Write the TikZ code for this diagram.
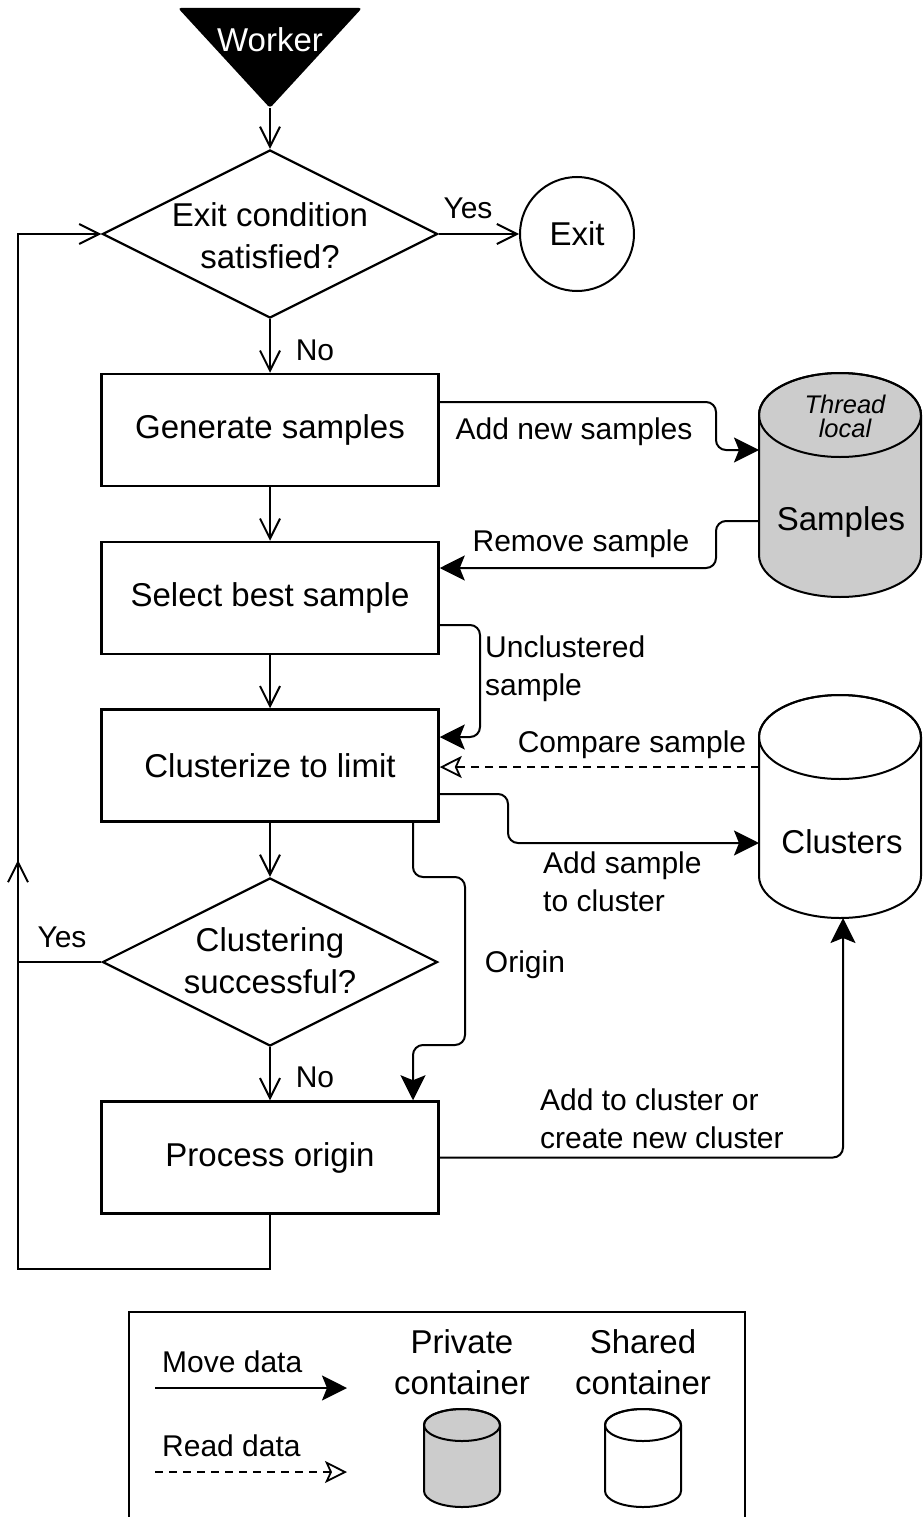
\documentclass[tikz,border=0pt]{standalone}
\usepackage{fontspec}
\setmainfont{Liberation Sans}
\usetikzlibrary{arrows.meta,shapes.geometric,calc}
\definecolor{cylgray}{HTML}{CCCCCC}
\newcommand\cylshape[6]{%
  \draw[line width=2pt,fill=#1] ({#2-#5},{#3+#6}) -- ({#2-#5},{#4-#6})
    arc[start angle=180,end angle=0,x radius=#5,y radius=#6]
    -- ({#2+#5},{#3+#6})
    arc[start angle=0,end angle=-180,x radius=#5,y radius=#6] -- cycle;
  \draw[line width=2pt] (#2,{#3+#6}) ellipse[x radius=#5,y radius=#6];
}
\begin{document}
\begin{tikzpicture}[x=1pt,y=-1pt,
  nodefont/.style={font=\fontsize{33}{42}\selectfont},
  lblfont/.style={font=\fontsize{30}{38}\selectfont},
  box/.style={draw,line width=2.5pt,minimum width=337pt,minimum height=112pt,inner sep=0pt,nodefont},
  dia/.style={draw,diamond,line width=2.2pt,minimum width=335pt,minimum height=168pt,inner sep=0pt},
  flow/.style={line width=2pt,-{Straight Barb[length=20pt,width=20pt]}},
  move/.style={line width=2pt,rounded corners=10pt,-{Stealth[length=25pt,width=25pt,inset=5pt]}},
  readd/.style={line width=1.8pt,dash pattern=on 8pt off 6pt,-{Stealth[open,length=22pt,width=22pt,inset=5pt]}},
  lbl/.style={lblfont,inner sep=0pt},
]
\useasboundingbox (0,0) rectangle (923,1517);

% Worker
\fill[rounded corners=3pt] (178,8) -- (362,8) -- (270,108) -- cycle;
\coordinate (wkapex) at (270,108);
\node[nodefont,text=white] (worker) at (270,40) {Worker};

% Decision 1 and exit
\node[dia] (d1) at (270,234) {};
\node[nodefont,align=center,inner sep=0pt] (d1t) at (270,236) {Exit condition\\satisfied?};
\node[draw,circle,line width=2pt,minimum size=114pt,inner sep=0pt,nodefont] (exit) at (577,234) {Exit};

% Process boxes
\node[box] (gen) at (270,430) {Generate samples};
\node[box] (sel) at (270,598) {Select best sample};
\node[box] (clu) at (270,765.5) {Clusterize to limit};
\node[dia] (d2) at (270,962) {};
\node[nodefont,align=center,inner sep=0pt] (d2t) at (270,961) {Clustering\\successful?};
\node[box] (proc) at (270,1157.5) {Process origin};

% Cylinders
\cylshape{cylgray}{840}{373}{597}{81}{42}
\node[font=\fontsize{25.5}{23}\selectfont\itshape,inner sep=0pt] (thread) at (845,404) {Thread};
\node[font=\fontsize{25.5}{23}\selectfont\itshape,inner sep=0pt] (local) at (845,428) {local};
\node[nodefont] (samples) at (841,522) {Samples};
\cylshape{white}{840}{695}{918}{81}{42}
\node[nodefont] (clusters) at (842,842) {Clusters};

\coordinate (sampIn) at (759,450);
\coordinate (sampOut) at (759,521);
\coordinate (cluCmp) at (759,767);
\coordinate (cluIn) at (759,843);
\coordinate (cluBot) at (843,918);

% Main flow
\draw[flow] (wkapex) -- (d1.north);
\draw[flow] (d1.east) -- (exit.west);
\node[lbl] (yes1) at (468,208) {Yes};
\draw[flow] (d1.south) -- (gen.north);
\node[lbl] (no1) at (315,350) {No};
\draw[flow] (gen.south) -- (sel.north);
\draw[flow] (sel.south) -- (clu.north);
\draw[flow] (clu.south) -- (d2.north);
\draw[flow] (d2.south) -- (proc.north);
\node[lbl] (no2) at (315,1077) {No};
\draw[flow] (d2.west) -- (18,962) -- (18,860);
\node[lbl] (yes2) at (62,937) {Yes};
\draw[flow] (proc.south) -- (270,1269) -- (18,1269) -- (18,234) -- (d1.west);

% Data flow
\draw[move] ($(gen.east)+(0,-28)$) -- (716,402) -- (716,450) -- (sampIn);
\node[lbl] (lAdd) at (574,432) {Add new samples};
\draw[move] (sampOut) -- (716,521) -- (716,568) -- ($(sel.east)+(0,-30)$);
\node[lbl] (lRem) at (581,544) {Remove sample};
\draw[move] ($(sel.east)+(0,27)$) -- (480,625) -- (480,737) -- ($(clu.east)+(0,-28.5)$);
\node[lbl,anchor=west,align=left] (lUnc) at (485,669) {Unclustered\\sample};
\draw[readd] (cluCmp) -- ($(clu.east)+(0,1.5)$);
\node[lbl] (lCmp) at (632,745) {Compare sample};
\draw[move] ($(clu.east)+(0,28.5)$) -- (508,794) -- (508,843) -- (cluIn);
\node[lbl,anchor=west,align=left] (lAsc) at (543,882) {Add sample\\to cluster};
\draw[move] ($(clu.south)+(143,0)$) -- (413,877) -- (465,877) -- (465,1045) -- (413,1045) -- ($(proc.north)+(143,0)$);
\node[lbl] (lOri) at (525,965) {Origin};
\draw[move] (proc.east) -- (843,1157.5) -- (cluBot);
\node[lbl,anchor=west,align=left] (lAtc) at (540,1119) {Add to cluster or\\create new cluster};

% Legend
\draw[line width=2pt] (129,1517) -- (129,1312) -- (745,1312) -- (745,1517);
\node[lbl,anchor=west] (lgMove) at (162,1362) {Move data};
\coordinate (mvA) at (155,1388);
\coordinate (mvB) at (347,1388);
\draw[move] (mvA) -- (mvB);
\node[lbl,anchor=west] (lgRead) at (162,1446) {Read data};
\coordinate (rdA) at (155,1472);
\coordinate (rdB) at (347,1472);
\draw[readd] (rdA) -- (rdB);
\node[font=\fontsize{33}{41}\selectfont,align=center,inner sep=0pt] (lgPriv) at (462,1362) {Private\\container};
\node[font=\fontsize{33}{41}\selectfont,align=center,inner sep=0pt] (lgShar) at (643,1362) {Shared\\container};
\cylshape{cylgray}{462}{1409}{1507}{38}{16}
\cylshape{white}{643}{1409}{1507}{38}{16}
\end{tikzpicture}
\end{document}
